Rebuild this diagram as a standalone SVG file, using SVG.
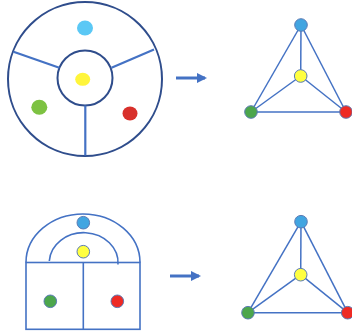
<svg xmlns="http://www.w3.org/2000/svg" width="352" height="333" viewBox="0 0 352 333">
<defs>
<style>
.ring{fill:none;stroke:#2F4D8C;stroke-width:2}
.spoke{stroke:#4472C4;stroke-width:2.2;fill:none}
.line{stroke:#4472C4;stroke-width:1.6;fill:none}
.edge{stroke:#4472C4;stroke-width:1.5}
.node{stroke:#5B7BB5;stroke-width:1}
.arrow{stroke:#4472C4;stroke-width:3}
</style>
<marker id="ah" viewBox="0 0 10 10" refX="8" refY="5" markerWidth="3.4" markerHeight="3.4" orient="auto">
<path d="M0,0 L10,5 L0,10 z" fill="#4472C4"/>
</marker>
</defs>
<rect width="352" height="333" fill="#ffffff"/>

<g id="circle-map">
<circle class="ring" cx="85" cy="79" r="77"/>
<circle class="ring" cx="85" cy="78" r="27.5"/>
<line class="spoke" x1="13.5" y1="51.8" x2="59.3" y2="67.7"/>
<line class="spoke" x1="154" y1="49.5" x2="111.5" y2="67.7"/>
<line class="spoke" x1="85.3" y1="105.5" x2="85.3" y2="155.5"/>
<ellipse cx="85" cy="28" rx="8" ry="7.5" fill="#5BC8F5"/>
<ellipse cx="82.7" cy="79.3" rx="7.5" ry="6.5" fill="#FFF53B"/>
<ellipse cx="39.3" cy="107.3" rx="8" ry="7.5" fill="#7DC242"/>
<ellipse cx="130" cy="113.5" rx="7.5" ry="7" fill="#D8302B"/>
</g>

<g id="arch-map">
<path class="line" d="M26,262.5 A57,48.5 0 0 1 140,262.5"/>
<path class="line" d="M49.3,261 A34.3,30 0 0 1 118,264.5"/>
<rect class="line" x="26" y="262.5" width="114" height="66.8"/>
<line class="line" x1="83.3" y1="262.5" x2="83.3" y2="329.3"/>
<circle class="node" cx="83.3" cy="222.7" r="6.3" fill="#41A5E1"/>
<circle class="node" cx="83.3" cy="251.7" r="6.3" fill="#FFFF40"/>
<circle class="node" cx="50.3" cy="301.3" r="6.3" fill="#4CA64C"/>
<circle class="node" cx="117.3" cy="301.3" r="6.3" fill="#EE2A24"/>
</g>

<g id="connectors">
<line class="arrow" x1="176" y1="78" x2="205" y2="78" marker-end="url(#ah)"/>
<line class="arrow" x1="170" y1="276" x2="199" y2="276" marker-end="url(#ah)"/>
<g class="edge">
<line x1="301" y1="25" x2="251" y2="112"/>
<line x1="301" y1="25" x2="346" y2="112"/>
<line x1="301" y1="25" x2="300.7" y2="76"/>
<line x1="300.7" y1="76" x2="251" y2="112"/>
<line x1="300.7" y1="76" x2="346" y2="112"/>
<line x1="251" y1="112" x2="346" y2="112"/>
<line x1="301" y1="221.7" x2="248" y2="312.7"/>
<line x1="301" y1="221.7" x2="347.7" y2="312.7"/>
<line x1="301" y1="221.7" x2="300.7" y2="274.7"/>
<line x1="300.7" y1="274.7" x2="248" y2="312.7"/>
<line x1="300.7" y1="274.7" x2="347.7" y2="312.7"/>
<line x1="248" y1="312.7" x2="347.7" y2="312.7"/>
</g>
</g>

<g id="graph-top">
<circle class="node" cx="301" cy="25" r="6.3" fill="#41A5E1"/>
<circle class="node" cx="300.7" cy="76" r="6.3" fill="#FFFF40"/>
<circle class="node" cx="251" cy="112" r="6.3" fill="#4CA64C"/>
<circle class="node" cx="346" cy="112" r="6.3" fill="#EE2A24"/>
</g>

<g id="graph-bottom">
<circle class="node" cx="301" cy="221.7" r="6.3" fill="#41A5E1"/>
<circle class="node" cx="300.7" cy="274.7" r="6.3" fill="#FFFF40"/>
<circle class="node" cx="248" cy="312.7" r="6.3" fill="#4CA64C"/>
<circle class="node" cx="347.7" cy="312.7" r="6.3" fill="#EE2A24"/>
</g>
</svg>
